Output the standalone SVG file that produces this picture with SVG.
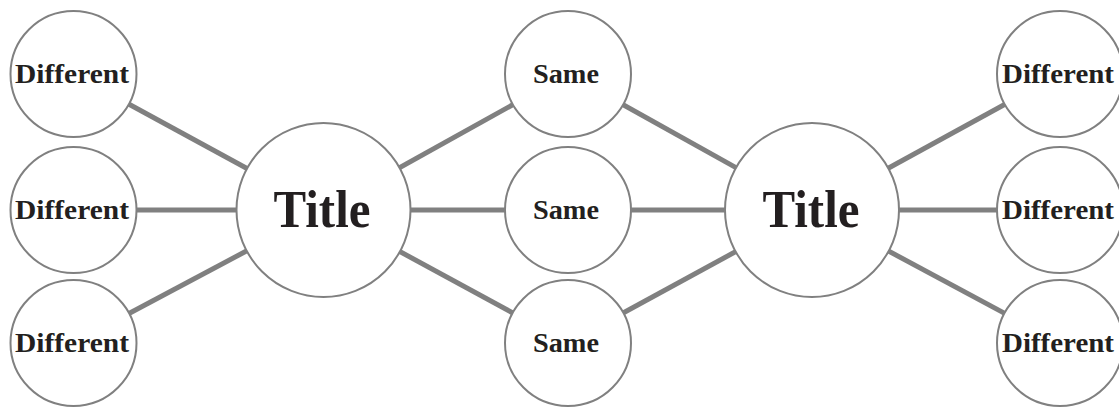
<svg xmlns="http://www.w3.org/2000/svg" width="1119" height="407" viewBox="0 0 1119 407">
<style>
.c{fill:#fff;stroke:#808080;stroke-width:2}
.t{font-family:"Liberation Serif","Times New Roman",serif;font-weight:bold;fill:#231f20;text-anchor:middle}
.s{font-size:27px}
.b{font-size:52px}
#connectors line{stroke:#808080;stroke-width:5}
</style>
<rect width="1119" height="407" fill="#fff"/>
<g id="connectors">
<line x1="73.5" y1="74" x2="323.5" y2="210"/>
<line x1="73.5" y1="210" x2="323.5" y2="210"/>
<line x1="73.5" y1="343" x2="323.5" y2="210"/>
<line x1="323.5" y1="210" x2="568" y2="74"/>
<line x1="323.5" y1="210" x2="568" y2="210"/>
<line x1="323.5" y1="210" x2="568" y2="343"/>
<line x1="568" y1="74" x2="812" y2="210"/>
<line x1="568" y1="210" x2="812" y2="210"/>
<line x1="568" y1="343" x2="812" y2="210"/>
<line x1="812" y1="210" x2="1060" y2="74"/>
<line x1="812" y1="210" x2="1060" y2="210"/>
<line x1="812" y1="210" x2="1060" y2="343"/>
</g>
<g id="diff-l1"><circle class="c" cx="73.5" cy="74" r="63"/><text class="t s" x="72" y="83" textLength="114" lengthAdjust="spacingAndGlyphs">Different</text></g>
<g id="diff-l2"><circle class="c" cx="73.5" cy="210" r="63"/><text class="t s" x="72" y="219" textLength="114" lengthAdjust="spacingAndGlyphs">Different</text></g>
<g id="diff-l3"><circle class="c" cx="73.5" cy="343" r="63"/><text class="t s" x="72" y="352" textLength="114" lengthAdjust="spacingAndGlyphs">Different</text></g>
<g id="title-l"><circle class="c" cx="323.5" cy="210" r="87"/><text class="t b" x="322" y="227" textLength="97" lengthAdjust="spacingAndGlyphs">Title</text></g>
<g id="same-1"><circle class="c" cx="568" cy="74" r="63"/><text class="t s" x="566" y="83" textLength="66" lengthAdjust="spacingAndGlyphs">Same</text></g>
<g id="same-2"><circle class="c" cx="568" cy="210" r="63"/><text class="t s" x="566" y="219" textLength="66" lengthAdjust="spacingAndGlyphs">Same</text></g>
<g id="same-3"><circle class="c" cx="568" cy="343" r="63"/><text class="t s" x="566" y="352" textLength="66" lengthAdjust="spacingAndGlyphs">Same</text></g>
<g id="title-r"><circle class="c" cx="812" cy="210" r="87"/><text class="t b" x="811" y="227" textLength="97" lengthAdjust="spacingAndGlyphs">Title</text></g>
<g id="diff-r1"><circle class="c" cx="1060" cy="74" r="63"/><text class="t s" x="1058" y="83" textLength="112" lengthAdjust="spacingAndGlyphs">Different</text></g>
<g id="diff-r2"><circle class="c" cx="1060" cy="210" r="63"/><text class="t s" x="1058" y="219" textLength="112" lengthAdjust="spacingAndGlyphs">Different</text></g>
<g id="diff-r3"><circle class="c" cx="1060" cy="343" r="63"/><text class="t s" x="1058" y="352" textLength="112" lengthAdjust="spacingAndGlyphs">Different</text></g>
</svg>
